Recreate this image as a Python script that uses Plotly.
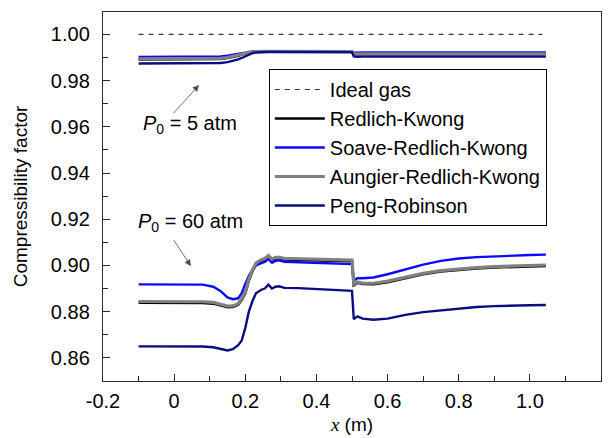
import plotly.graph_objects as go

# Axial positions (m) shared by all profiles
x_pos = [-0.10, 0.00, 0.08, 0.11, 0.13, 0.15, 0.165, 0.18, 0.19, 0.20, 0.21, 0.22,
         0.23, 0.245, 0.255, 0.265, 0.275, 0.285, 0.295, 0.31, 0.35, 0.40, 0.45,
         0.500, 0.505, 0.515, 0.53, 0.56, 0.60, 0.65, 0.70, 0.75, 0.80, 0.85,
         0.90, 0.95, 1.00, 1.045]

# Compressibility factor, P0 = 5 atm
rk_5 = [0.9892, 0.9892, 0.9892, 0.9892, 0.9894, 0.9898, 0.9902, 0.9908, 0.9913,
        0.9918, 0.9921, 0.9924, 0.9926, 0.9926, 0.9926, 0.9926, 0.9926, 0.9926,
        0.9926, 0.9926, 0.9926, 0.9926, 0.9926, 0.9926, 0.9913, 0.9914, 0.9914,
        0.9914, 0.9914, 0.9914, 0.9914, 0.9914, 0.9914, 0.9914, 0.9914, 0.9914,
        0.9914, 0.9914]
srk_5 = [0.9903, 0.9903, 0.9903, 0.9903, 0.9905, 0.9908, 0.9911, 0.9915, 0.9918,
         0.9921, 0.9924, 0.9926, 0.9927, 0.9927, 0.9927, 0.9927, 0.9927, 0.9927,
         0.9927, 0.9927, 0.9927, 0.9927, 0.9926, 0.9926, 0.9921, 0.9922, 0.9922,
         0.9922, 0.9922, 0.9922, 0.9922, 0.9922, 0.9922, 0.9922, 0.9922, 0.9922,
         0.9922, 0.9922]
ark_5 = [0.9894, 0.9894, 0.9894, 0.9894, 0.9896, 0.9900, 0.9904, 0.9909, 0.9914,
         0.9919, 0.9922, 0.9925, 0.9926, 0.9927, 0.9927, 0.9927, 0.9927, 0.9927,
         0.9927, 0.9927, 0.9927, 0.9927, 0.9926, 0.9926, 0.9915, 0.9916, 0.9916,
         0.9916, 0.9916, 0.9916, 0.9916, 0.9916, 0.9916, 0.9916, 0.9916, 0.9916,
         0.9916, 0.9916]
pr_5 = [0.9874, 0.9874, 0.9874, 0.9874, 0.9876, 0.9880, 0.9885, 0.9892, 0.9898,
        0.9906, 0.9914, 0.9919, 0.9922, 0.9924, 0.9924, 0.9924, 0.9924, 0.9924,
        0.9924, 0.9924, 0.9924, 0.9924, 0.9923, 0.9923, 0.9905, 0.9903, 0.9904,
        0.9904, 0.9904, 0.9904, 0.9904, 0.9904, 0.9904, 0.9904, 0.9904, 0.9904,
        0.9904, 0.9904]

# Compressibility factor, P0 = 60 atm
rk_60 = [0.8839, 0.8839, 0.8838, 0.8835, 0.8828, 0.8819, 0.8820, 0.8830, 0.8850,
         0.8880, 0.8935, 0.8975, 0.9005, 0.9020, 0.9025, 0.9038, 0.9022, 0.9030,
         0.9030, 0.9026, 0.9024, 0.9022, 0.9020, 0.9018, 0.8915, 0.8925, 0.8920,
         0.8919, 0.8928, 0.8945, 0.8962, 0.8974, 0.8982, 0.8987, 0.8991, 0.8994,
         0.8996, 0.8998]
srk_60 = [0.8918, 0.8918, 0.8917, 0.8908, 0.8890, 0.8862, 0.8854, 0.8858, 0.8880,
          0.8920, 0.8955, 0.8980, 0.9000, 0.9010, 0.9015, 0.9028, 0.9012, 0.9020,
          0.9022, 0.9016, 0.9014, 0.9011, 0.9009, 0.9006, 0.8935, 0.8945, 0.8945,
          0.8948, 0.8962, 0.8983, 0.9004, 0.9020, 0.9030, 0.9036, 0.9040, 0.9043,
          0.9045, 0.9047]
ark_60 = [0.8844, 0.8844, 0.8843, 0.8840, 0.8833, 0.8824, 0.8825, 0.8835, 0.8855,
          0.8886, 0.8941, 0.8981, 0.9010, 0.9025, 0.9030, 0.9043, 0.9027, 0.9035,
          0.9035, 0.9031, 0.9029, 0.9027, 0.9025, 0.9023, 0.8919, 0.8929, 0.8924,
          0.8923, 0.8932, 0.8949, 0.8966, 0.8978, 0.8986, 0.8991, 0.8995, 0.8998,
          0.9000, 0.9002]
pr_60 = [0.8650, 0.8650, 0.8649, 0.8646, 0.8638, 0.8632, 0.8638, 0.8655, 0.8675,
         0.8730, 0.8800, 0.8845, 0.8880, 0.8895, 0.8900, 0.8917, 0.8900, 0.8908,
         0.8910, 0.8903, 0.8902, 0.8898, 0.8895, 0.8890, 0.8768, 0.8780, 0.8770,
         0.8765, 0.8770, 0.8786, 0.8798, 0.8806, 0.8814, 0.8820, 0.8824, 0.8827,
         0.8828, 0.8829]

# Ideal gas reference
ideal_x = [-0.10, 1.035]
ideal_z = [1.0, 1.0]

# Axis ticks
x_ticks = [-0.2, 0.0, 0.2, 0.4, 0.6, 0.8, 1.0, 1.2]
x_tick_text = ["-0.2", "0", "0.2", "0.4", "0.6", "0.8", "1.0", "1.2"]
y_ticks = [0.86, 0.88, 0.90, 0.92, 0.94, 0.96, 0.98, 1.00]

FONT = "Liberation Sans, Arial, sans-serif"
AXIS_COLOR = "#2b2b2b"

models = [
    ("Redlich-Kwong", rk_5, rk_60, "#000000", 2.6),
    ("Soave-Redlich-Kwong", srk_5, srk_60, "#0a0aff", 2.4),
    ("Aungier-Redlich-Kwong", ark_5, ark_60, "#808080", 3.2),
    ("Peng-Robinson", pr_5, pr_60, "#0c0c82", 2.4),
]

fig = go.Figure()

fig.add_trace(go.Scatter(
    x=ideal_x, y=ideal_z, mode="lines", name="Ideal gas",
    line=dict(color="#3a3a3a", width=1.1, dash="5px,5px"),
))

for name, z5, z60, color, width in models:
    fig.add_trace(go.Scatter(
        x=x_pos, y=z5, mode="lines", name=name, legendgroup=name,
        line=dict(color=color, width=width),
    ))
    fig.add_trace(go.Scatter(
        x=x_pos, y=z60, mode="lines", name=name, legendgroup=name,
        showlegend=False, line=dict(color=color, width=width),
    ))

# Pressure labels with pointers
labels = [
    ("<i>P</i><sub>0</sub> = 5 atm", -0.093, 0.9612, -0.006, 0.9652, 0.070, 0.9781),
    ("<i>P</i><sub>0</sub> = 60 atm", -0.106, 0.9186, -0.004, 0.9117, 0.047, 0.8997),
]
for text, tx, ty, ax0, ay0, hx, hy in labels:
    fig.add_annotation(x=tx, y=ty, text=text, showarrow=False,
                       xanchor="left", yanchor="middle",
                       font=dict(family=FONT, size=20, color="#000000"))
    fig.add_annotation(x=hx, y=hy, ax=ax0, ay=ay0, axref="x", ayref="y",
                       text="", showarrow=True, arrowhead=2, arrowsize=1.6,
                       arrowwidth=0.8, arrowcolor="#505050", standoff=0)

axis_common = dict(
    showline=True, linecolor=AXIS_COLOR, linewidth=1.4, mirror=True,
    ticks="inside", ticklen=7, tickwidth=1.2, tickcolor=AXIS_COLOR,
    showgrid=False, zeroline=False, automargin=False,
    tickfont=dict(family=FONT, size=20, color="#000000"),
)

fig.update_xaxes(
    range=[-0.2, 1.2], tickmode="array", tickvals=x_ticks, ticktext=x_tick_text,
    minor=dict(tickmode="linear", tick0=-0.2, dtick=0.1, ticks="inside",
               ticklen=5, tickwidth=1.2, tickcolor=AXIS_COLOR, showgrid=False),
    ticklabelstandoff=2,
    title=dict(text="<span style='font-family:Liberation Serif'><i>x</i></span> (m)",
               font=dict(family=FONT, size=19, color="#000000"), standoff=6),
    **axis_common,
)
fig.update_yaxes(
    range=[0.85, 1.0097], tickmode="array", tickvals=y_ticks, tickformat=".2f",
    minor=dict(tickmode="linear", tick0=0.85, dtick=0.01, ticks="inside",
               ticklen=5, tickwidth=1.2, tickcolor=AXIS_COLOR, showgrid=False),
    ticklabelstandoff=8,
    title=dict(text="Compressibility factor",
               font=dict(family=FONT, size=19, color="#000000"), standoff=18),
    **axis_common,
)

fig.update_layout(
    width=614, height=438,
    margin=dict(l=103, r=13, t=12, b=57),
    paper_bgcolor="white", plot_bgcolor="white",
    showlegend=True,
    legend=dict(
        x=0.333, y=0.8455, xanchor="left", yanchor="top",
        bgcolor="white", bordercolor="#000000", borderwidth=1,
        font=dict(family=FONT, size=20, color="#000000"),
        itemwidth=50, tracegroupgap=0,
    ),
)

fig.write_html("out.html")
